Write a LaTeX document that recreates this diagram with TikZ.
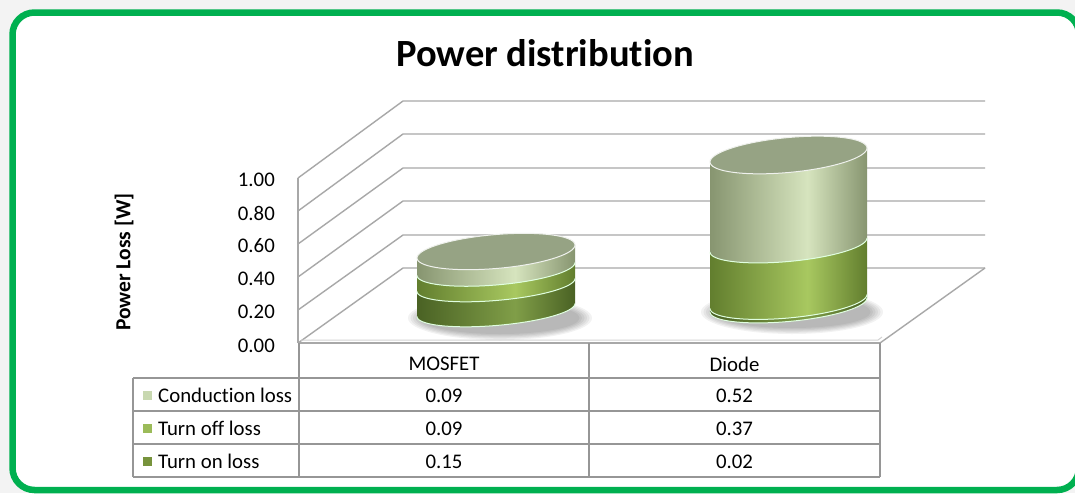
\documentclass[tikz,border=0pt]{standalone}
\usepackage{fontspec}
\setmainfont{Carlito}[Ligatures=NoCommon]
\definecolor{brd}{RGB}{0,176,80}
\definecolor{bgc}{RGB}{243,243,243}
\definecolor{gridc}{RGB}{168,168,168}
\definecolor{tblc}{RGB}{150,150,150}
\definecolor{topc}{RGB}{150,163,132}
\definecolor{legC}{RGB}{200,216,176}
\definecolor{legO}{RGB}{155,187,89}
\definecolor{legN}{RGB}{119,147,60}
\definecolor{cCondD}{RGB}{135,149,112}
\definecolor{cCondL}{RGB}{214,228,190}
\definecolor{cOffD}{RGB}{98,126,46}
\definecolor{cOffL}{RGB}{168,200,96}
\definecolor{cOnD}{RGB}{74,98,36}
\definecolor{cOnL}{RGB}{128,158,72}
\pgfdeclarehorizontalshading{shCond}{100bp}{color(0bp)=(cCondD); color(25bp)=(cCondD); color(56bp)=(cCondL); color(75bp)=(cCondD); color(100bp)=(cCondD)}
\pgfdeclarehorizontalshading{shOff}{100bp}{color(0bp)=(cOffD); color(25bp)=(cOffD); color(56bp)=(cOffL); color(75bp)=(cOffD); color(100bp)=(cOffD)}
\pgfdeclarehorizontalshading{shOn}{100bp}{color(0bp)=(cOnD); color(25bp)=(cOnD); color(56bp)=(cOnL); color(75bp)=(cOnD); color(100bp)=(cOnD)}
% #1 cx, #2 rx, #3 slope, #4 ry, #5 lower level, #6 upper level, #7 shading
\newcommand\cylband[7]{%
  \shade[shading=#7] plot[domain=180:0,samples=41,variable=\t] ({#1+#2*cos(\t)},{#5-#3*#2*cos(\t)+#4*sin(\t)})
    -- plot[domain=0:180,samples=41,variable=\t] ({#1+#2*cos(\t)},{#6-#3*#2*cos(\t)+#4*sin(\t)}) -- cycle;}
\newcommand\cylsep[5]{%
  \draw[sepline] plot[domain=180:0,samples=41,variable=\t] ({#1+#2*cos(\t)},{#5-#3*#2*cos(\t)+#4*sin(\t)});}
\newcommand\cyltop[5]{%
  \draw[topface] plot[domain=0:360,samples=73,variable=\t] ({#1+#2*cos(\t)},{#5-#3*#2*cos(\t)+#4*sin(\t)}) -- cycle;}
\tikzset{
  gridline/.style={draw=gridc, line width=1.4pt},
  tline/.style={draw=tblc, line width=1.3pt},
  sepline/.style={draw=white!88!green, line width=1pt},
  topface/.style={fill=topc, draw=white!85!topc, line width=1pt},
  lab/.style={font=\fontsize{20.8}{22}\selectfont, inner sep=0pt},
  legsq/.style={minimum size=9pt, inner sep=0pt},
}
\begin{document}
\begin{tikzpicture}[x=1pt,y=-1pt]
\useasboundingbox (0,0) rectangle (1075,493);
\clip (0,0) rectangle (1075,493);
\fill[bgc] (0,0) rectangle (1075,493);
\draw[brd, line width=6.5pt, rounded corners=22pt, fill=white] (12.5,12.5) rectangle (1079,490);

% title
\node[font=\fontsize{38.5}{40}\bfseries\selectfont, inner sep=0pt] (title) at (545,53) {Power distribution};

% back wall grid lines and left wall diagonals
\foreach \yb/\yf in {101/178, 134/211, 168/244, 201/277, 235/310, 268/343} {
  \draw[gridline] (298,\yf) -- (403,\yb) -- (985,\yb);
}
\draw[gridline] (298,178) -- (298,343);
% floor
\draw[gridline] (985,268) -- (880,343);
\draw[gridline] (298,343) -- (880,343);
\draw[draw=gridc!50, line width=1pt] (301,340) -- (878,340) -- (882,337);

% shadows
\foreach \k in {0,...,5} {
  \fill[black, opacity=0.05] (500,318) ellipse [x radius={92-2.5*\k}, y radius={22-1.2*\k}];
  \fill[black, opacity=0.05] (792,312) ellipse [x radius={91-2.5*\k}, y radius={22-1.2*\k}];
}

% MOSFET cylinder
\cylband{496}{79}{0.082}{15.5}{310}{285}{shOn}
\cylband{496}{79}{0.082}{15.5}{285}{269}{shOff}
\cylband{496}{79}{0.082}{16}{269}{251.5}{shCond}
\cylsep{496}{79}{0.082}{15.5}{310}
\cylsep{496}{79}{0.082}{15.5}{285}
\cylsep{496}{79}{0.082}{16}{269}
\cyltop{496}{79}{0.082}{17}{251.5}

% Diode cylinder
\cylband{788.5}{78.5}{0.089}{16.5}{305}{301.5}{shOn}
\cylband{788.5}{78.5}{0.089}{16.5}{301.5}{245}{shOff}
\cylband{788.5}{78.5}{0.089}{16.5}{245}{155}{shCond}
\cylsep{788.5}{78.5}{0.089}{16.5}{305}
\cylsep{788.5}{78.5}{0.089}{16.5}{301.5}
\cylsep{788.5}{78.5}{0.089}{16.5}{245}
\cyltop{788.5}{78.5}{0.089}{17.5}{155}

% axis labels
\node[lab, anchor=east] (l100) at (275,180) {1.00};
\node[lab, anchor=east] (l080) at (275,213) {0.80};
\node[lab, anchor=east] (l060) at (275,246) {0.60};
\node[lab, anchor=east] (l040) at (275,279) {0.40};
\node[lab, anchor=east] (l020) at (275,312) {0.20};
\node[lab, anchor=east] (l000) at (275,346) {0.00};
\node[font=\fontsize{21.5}{23}\bfseries\selectfont, rotate=90, inner sep=0pt] (ytitle) at (124,262) {Power Loss [W]};

% table
\draw[tline] (299,343) -- (299,477);
\draw[tline] (589,343) -- (589,477);
\draw[tline] (880,343) -- (880,477);
\draw[tline] (133,378) -- (133,477);
\foreach \yy in {378,411,444,477} { \draw[tline] (133,\yy) -- (880,\yy); }

\node[lab] (hM) at (444,364) {MOSFET};
\node[lab] (hD) at (734.5,364) {Diode};

\node[legsq, fill=legC] (sqC) at (147.5,395) {};
\node[legsq, fill=legO] (sqO) at (147.5,428) {};
\node[legsq, fill=legN] (sqN) at (147.5,461) {};
\node[lab, anchor=west] (tC) at (158,395) {Conduction loss};
\node[lab, anchor=west] (tO) at (158,428.5) {Turn off loss};
\node[lab, anchor=west] (tN) at (158,461.5) {Turn on loss};

\node[lab] (vC1) at (444,395.5) {0.09};
\node[lab] (vC2) at (734.5,395.5) {0.52};
\node[lab] (vO1) at (444,428.5) {0.09};
\node[lab] (vO2) at (734.5,428.5) {0.37};
\node[lab] (vN1) at (444,461.5) {0.15};
\node[lab] (vN2) at (734.5,461.5) {0.02};
\end{tikzpicture}
\end{document}
